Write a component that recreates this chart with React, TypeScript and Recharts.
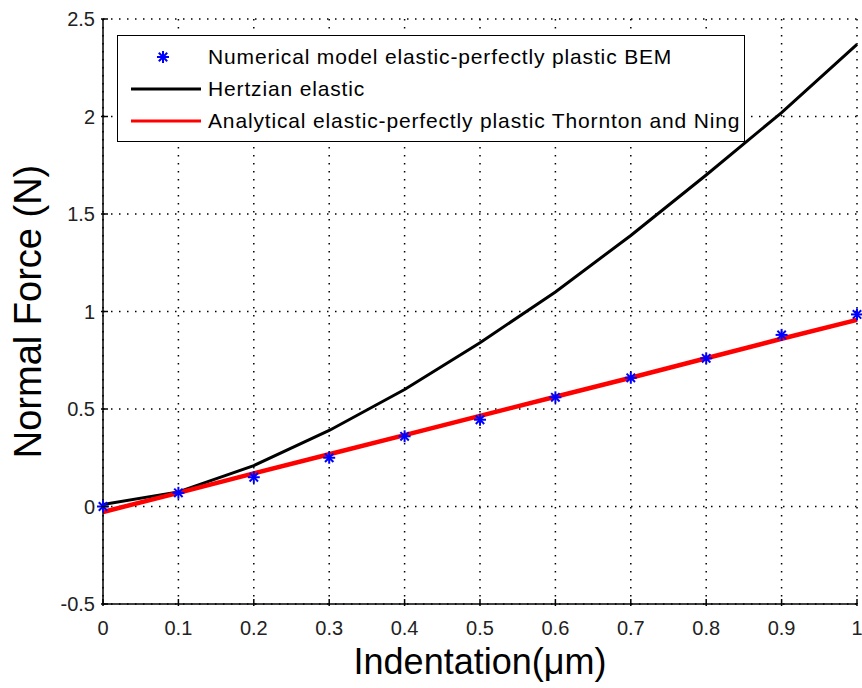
import React from 'react';
import {
  ComposedChart,
  Line,
  Scatter,
  XAxis,
  YAxis,
  CartesianGrid,
} from 'recharts';

// indentation in µm
const indentation = [0, 0.1, 0.2, 0.3, 0.4, 0.5, 0.6, 0.7, 0.8, 0.9, 1.0];
// BEM elastic-perfectly plastic model (N)
const bemForce = [0.0, 0.07, 0.15, 0.25, 0.36, 0.445, 0.56, 0.66, 0.76, 0.88, 0.985];
// Hertzian elastic response (N)
const hertzForce = [0.01, 0.075, 0.21, 0.39, 0.6, 0.84, 1.1, 1.39, 1.7, 2.02, 2.37];
// Thornton & Ning analytical solution (N)
const thorntonForce = [-0.028, 0.07, 0.17, 0.268, 0.366, 0.465, 0.563, 0.66, 0.76, 0.86, 0.957];

const xTicks = [0, 0.1, 0.2, 0.3, 0.4, 0.5, 0.6, 0.7, 0.8, 0.9, 1];
const yTicks = [-0.5, 0, 0.5, 1, 1.5, 2, 2.5];

const legendItems = [
  { label: 'Numerical model elastic-perfectly plastic BEM', kind: 'star' },
  { label: 'Hertzian elastic', kind: 'black' },
  { label: 'Analytical elastic-perfectly plastic Thornton and Ning', kind: 'red' },
];

const data = indentation.map((x, i) => ({
  x,
  bem: bemForce[i],
  hertz: hertzForce[i],
  thornton: thorntonForce[i],
}));

const FONT = 'Liberation Sans, Arial, sans-serif';

const Star = ({ cx, cy }: { cx?: number; cy?: number }) => {
  if (cx == null || cy == null) return null;
  const r = 6;
  const d = r * 0.7;
  return (
    <g stroke="#0000ff" strokeWidth={2}>
      <line x1={cx - r} y1={cy} x2={cx + r} y2={cy} />
      <line x1={cx} y1={cy - r} x2={cx} y2={cy + r} />
      <line x1={cx - d} y1={cy - d} x2={cx + d} y2={cy + d} />
      <line x1={cx - d} y1={cy + d} x2={cx + d} y2={cy - d} />
    </g>
  );
};

// inward tick marks, MATLAB style
const XTick = (props: any) => {
  const { x, y, payload } = props;
  return (
    <g>
      <line x1={x} y1={y} x2={x} y2={y - 7} stroke="#000" strokeWidth={1.5} />
      <text x={x} y={y + 29} textAnchor="middle" fontSize={20} fill="#222" fontFamily={FONT}>
        {String(payload.value)}
      </text>
    </g>
  );
};

const YTick = (props: any) => {
  const { x, y, payload } = props;
  return (
    <g>
      <line x1={x} y1={y} x2={x + 7} y2={y} stroke="#000" strokeWidth={1.5} />
      <text x={x - 6} y={y + 7} textAnchor="end" fontSize={20} fill="#222" fontFamily={FONT}>
        {String(payload.value)}
      </text>
    </g>
  );
};

// rotated y-axis title, centred on the plot's height
const YTitle = (props: any) => {
  const vb = props.viewBox || {};
  const cy = (vb.y ?? 0) + (vb.height ?? 0) / 2;
  const cx = 28;
  return (
    <text
      x={cx}
      y={cy}
      transform={`rotate(-90 ${cx} ${cy})`}
      textAnchor="middle"
      dominantBaseline="central"
      fontSize={38}
      fill="#000"
      fontFamily={FONT}
    >
      Normal Force (N)
    </text>
  );
};

const LegendBox = () => (
  <div
    style={{
      position: 'absolute',
      left: 117,
      top: 35,
      width: 628,
      height: 107,
      border: '1.5px solid #000',
      background: '#fff',
      fontFamily: FONT,
      fontSize: 21,
      letterSpacing: 0.85,
      boxSizing: 'border-box',
      paddingTop: 5,
    }}
  >
    {legendItems.map((item) => (
      <div key={item.label} style={{ display: 'flex', alignItems: 'center', height: 32 }}>
        <svg width={88} height={20} style={{ marginLeft: 8 }}>
          {item.kind === 'star' ? (
            <Star cx={37} cy={10} />
          ) : (
            <line
              x1={5}
              y1={10}
              x2={75}
              y2={10}
              stroke={item.kind === 'red' ? '#ff0000' : '#000'}
              strokeWidth={3}
            />
          )}
        </svg>
        <span style={{ color: '#000', marginLeft: -6, whiteSpace: 'nowrap' }}>{item.label}</span>
      </div>
    ))}
  </div>
);

export default function App() {
  return (
    <div style={{ position: 'absolute', left: 0, top: 0, width: 862, height: 688, background: '#fff' }}>
      <ComposedChart
        width={862}
        height={688}
        data={data}
        margin={{ top: 19, right: 5, bottom: 0, left: 0 }}
      >
        <CartesianGrid stroke="#000" strokeDasharray="1.5 6.5" strokeWidth={1.5} />
        <XAxis
          dataKey="x"
          type="number"
          domain={[0, 1]}
          ticks={xTicks}
          height={84}
          tickSize={0}
          tickLine={false}
          tick={<XTick />}
          stroke="#000"
          strokeWidth={1.5}
          label={{
            value: 'Indentation(μm)',
            position: 'insideBottom',
            offset: 14,
            fontSize: 36,
            fill: '#000',
            fontFamily: FONT,
          }}
        />
        <YAxis
          type="number"
          domain={[-0.5, 2.5]}
          ticks={yTicks}
          width={103}
          tickSize={0}
          tickLine={false}
          tick={<YTick />}
          stroke="#000"
          strokeWidth={1.5}
          label={{ content: <YTitle /> }}
        />
        <Scatter dataKey="bem" shape={<Star />} isAnimationActive={false} />
        <Line
          type="linear"
          dataKey="hertz"
          stroke="#000"
          strokeWidth={3}
          dot={false}
          isAnimationActive={false}
        />
        <Line
          type="linear"
          dataKey="thornton"
          stroke="#ff0000"
          strokeWidth={4.5}
          dot={false}
          isAnimationActive={false}
        />
      </ComposedChart>
      <LegendBox />
    </div>
  );
}
